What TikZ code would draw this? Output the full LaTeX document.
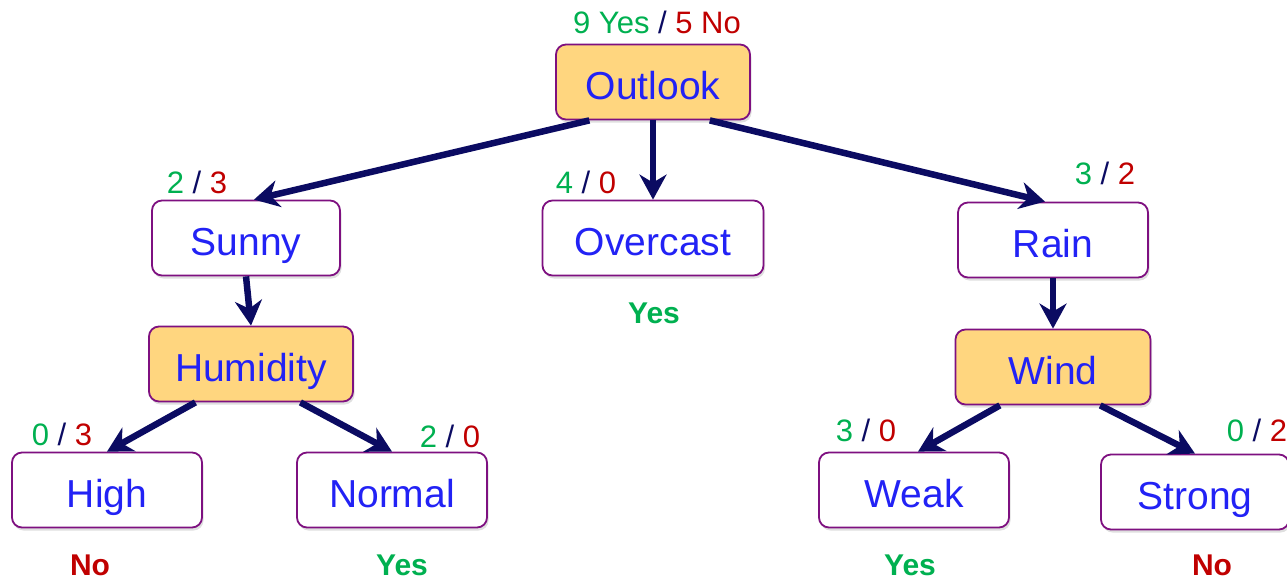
\documentclass[tikz,border=0pt]{standalone}
\usepackage{fontspec}
\setmainfont{Liberation Sans}
\usetikzlibrary{arrows.meta,calc,shadows}
\definecolor{nodeblue}{HTML}{2222F5}
\definecolor{edgepurple}{HTML}{7E1080}
\definecolor{attrfill}{HTML}{FFD67F}
\definecolor{yesgreen}{HTML}{00B050}
\definecolor{nored}{HTML}{C00000}
\definecolor{navy}{HTML}{0B0B62}
\newcommand{\cnt}[2]{\textcolor{yesgreen}{#1} \textcolor{navy}{/} \textcolor{nored}{#2}}
\begin{document}
\begin{tikzpicture}[x=1pt,y=-1pt,
  box/.style={draw=edgepurple, line width=1.8pt, rounded corners=10pt, fill=white,
    minimum width=190pt, minimum height=75pt, inner sep=0pt,
    text height=40pt, text depth=6pt,
    text=nodeblue, font=\fontsize{39}{42}\selectfont,
    drop shadow={opacity=0.25, shadow xshift=1.5pt, shadow yshift=-3pt}},
  attr/.style={box, fill=attrfill},
  count/.style={font=\fontsize{31}{33}\selectfont, inner sep=0pt},
  verdict/.style={font=\fontsize{30}{32}\selectfont\bfseries, inner sep=0pt},
  branch/.style={draw=navy, line width=6.5pt, -{Stealth[length=25pt, width=27pt, inset=8pt]}}]
\useasboundingbox (0,0) rectangle (1287,579);

% decision and outcome boxes
\node[attr, minimum width=194pt] (outlook) at (653,82) {Outlook};
\node[box, minimum width=188pt] (sunny) at (246,238) {Sunny};
\node[box, minimum width=221pt] (overcast) at (653,238) {Overcast};
\node[box] (rain) at (1053,240) {Rain};
\node[attr, minimum width=204pt] (humidity) at (251,364) {Humidity};
\node[attr, minimum width=195pt] (wind) at (1053,367) {Wind};
\node[box] (high) at (107,490) {High};
\node[box] (normal) at (392,490) {Normal};
\node[box] (weak) at (914,490) {Weak};
\node[box, minimum width=188pt] (strong) at (1195,492) {Strong};

% class counts
\node[count] (c0) at (657,22) {\textcolor{yesgreen}{9 Yes} \textcolor{navy}{/} \textcolor{nored}{5 No}};
\node[count] (c1) at (197,182) {\cnt{2}{3}};
\node[count] (c2) at (586,182) {\cnt{4}{0}};
\node[count] (c3) at (1105,173) {\cnt{3}{2}};
\node[count] (c4) at (62,434) {\cnt{0}{3}};
\node[count] (c5) at (450,436) {\cnt{2}{0}};
\node[count] (c6) at (866,430) {\cnt{3}{0}};
\node[count] (c7) at (1257,430) {\cnt{0}{2}};

% leaf decisions
\node[verdict, text=yesgreen] (v1) at (654,313) {Yes};
\node[verdict, text=nored] (v2) at (90,565) {No};
\node[verdict, text=yesgreen] (v3) at (402,565) {Yes};
\node[verdict, text=yesgreen] (v4) at (910,565) {Yes};
\node[verdict, text=nored] (v5) at (1212,565) {No};

% branches
\draw[branch] ($(outlook.south west)!0.175!(outlook.south east)$) -- ([xshift=8pt]sunny.north);
\draw[branch] (outlook.south) -- (overcast.north);
\draw[branch] ($(outlook.south west)!0.79!(outlook.south east)$) -- ([xshift=-8pt]rain.north);
\draw[branch] (sunny.south) -- (humidity.north);
\draw[branch] (rain.south) -- (wind.north);
\draw[branch] ($(humidity.south west)!0.23!(humidity.south east)$) -- (high.north);
\draw[branch] ($(humidity.south west)!0.74!(humidity.south east)$) -- (normal.north);
\draw[branch] ($(wind.south west)!0.23!(wind.south east)$) -- ([xshift=4pt]weak.north);
\draw[branch] ($(wind.south west)!0.74!(wind.south east)$) -- (strong.north);
\end{tikzpicture}
\end{document}
